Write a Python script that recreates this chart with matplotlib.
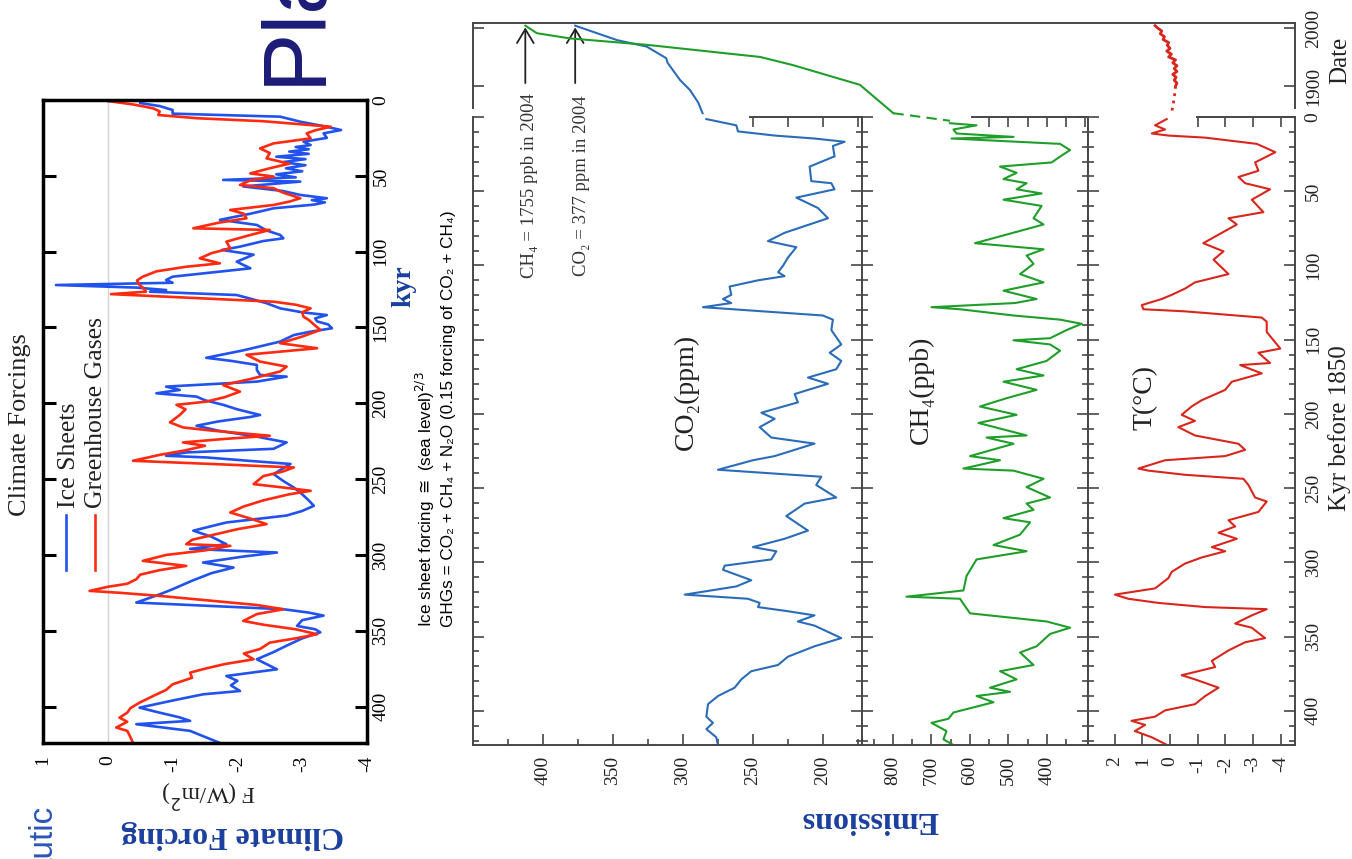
import matplotlib
matplotlib.use("Agg")
import matplotlib.pyplot as plt
from matplotlib.lines import Line2D
from matplotlib.ticker import FixedLocator

plt.rcParams['font.family'] = ['Liberation Serif', 'DejaVu Serif']

W, H = 1352, 859

# %% data - climate forcings (kyr before present, W/m2)
ice_kyr = [2, 4, 6.6, 9, 11, 14.3, 17, 19.8, 22, 25, 27.5, 29.7, 31, 32.5, 34, 35.5, 37.4, 39, 41, 43,
           45, 47, 49, 51, 52.7, 53.8, 57, 60, 62.6, 64.8, 66, 67.5, 69, 71.4, 75, 79, 82.4, 86, 89, 91.2,
           93, 96.7, 98.9, 102, 106.6, 111, 116.5, 118.7, 120.5, 122, 123.7, 125.3, 126.4, 128.6, 131,
           134, 137.4, 140, 141.8, 144, 146, 148, 150.5, 153, 155, 159.3, 165, 170, 172, 174.7, 178,
           181.3, 182.4, 185.7, 189, 191.2, 193.4, 195.6, 198, 201, 204, 207.7, 209, 212, 214.8, 218,
           222, 225.8, 230, 232.4, 234.6, 235.7, 238, 240, 243, 246.7, 251, 255.5, 260, 264, 267.6, 271,
           274, 278.6, 281, 284, 288, 292.9, 296, 298.4, 301, 305, 308.3, 312, 317, 322.6, 326, 329,
           331.4, 333, 335.8, 338, 340, 343, 346.8, 349, 351, 355, 360, 364, 368.8, 372, 375.4, 379.8,
           383, 386, 389.7, 391.9, 396, 400.7, 404, 407, 409.4, 411.6, 414, 416, 420, 424]
ice_f = [-0.5, -0.8, -1.0, -1.0, -2.66, -2.97, -3.3, -3.6, -3.33, -3.38, -3.02, -3.13, -2.9, -3.1, -2.8,
         -3.1, -2.6, -3.05, -2.7, -3.05, -2.75, -3.0, -2.6, -2.9, -1.78, -2.97, -2.09, -2.7, -2.97, -3.38,
         -3.15, -3.35, -3.18, -2.56, -2.2, -1.73, -2.3, -2.45, -2.66, -2.71, -2.4, -2.04, -1.76, -2.25,
         -1.99, -2.2, -1.0, -0.9, -1.0, 0.8, -0.44, -0.9, -0.65, -1.99, -2.2, -2.45, -2.66, -3.0, -3.38,
         -3.2, -3.23, -3.4, -3.46, -3.1, -2.87, -2.66, -2.1, -1.52, -1.9, -2.3, -2.3, -2.35, -2.76, -2.3,
         -0.9, -1.11, -0.75, -1.37, -1.5, -1.78, -2.0, -2.35, -2.2, -1.7, -1.37, -1.7, -2.3, -2.76, -2.56,
         -1.21, -0.9, -1.52, -2.2, -2.82, -2.7, -2.56, -2.7, -2.87, -3.0, -3.1, -3.18, -3.0, -2.76, -1.83,
         -1.6, -1.32, -1.6, -1.83, -1.27, -2.61, -2.1, -1.47, -1.94, -1.6, -1.3, -1.0, -0.8, -0.6, -0.44,
         -1.27, -2.71, -3.1, -3.33, -3.0, -2.92, -3.2, -3.28, -3.0, -2.75, -2.56, -2.3, -2.45, -2.61,
         -1.83, -2.0, -1.9, -2.04, -1.47, -1.0, -0.49, -0.8, -1.1, -1.27, -0.44, -0.9, -1.27, -1.5, -1.73]
ghg_kyr = [0.7, 3, 5.5, 7.5, 9.9, 12, 14, 17.6, 20, 22, 25.3, 28.6, 31.9, 35, 38.5, 42, 45, 48.4, 50.5,
           53, 56, 58.2, 61, 64.8, 67, 69.2, 72.5, 75, 78, 81, 84.6, 85.7, 89, 93.4, 97.8, 101, 104.4,
           107.7, 110, 113, 116.5, 119, 122, 124, 126.4, 128, 130.5, 133, 135, 137.4, 140, 142.9, 145,
           148, 151.6, 156, 160.4, 163.7, 168, 172.5, 175.8, 179, 184, 188, 192.3, 196, 198.9, 201, 204,
           207.7, 212.6, 215.9, 218, 221.4, 223.5, 225.8, 228, 231, 234, 237.9, 240, 242.3, 245, 248,
           253.3, 255.5, 257.7, 260, 264, 268, 272, 276, 279.7, 283, 287, 290, 292.9, 294, 297, 300,
           303.9, 307.2, 310, 313, 316, 319, 321, 323.7, 325, 327, 330.3, 333, 335.8, 339, 343.5, 346,
           349, 352.3, 355, 357.8, 362, 365, 368.8, 372, 375, 377.6, 381, 385.3, 389, 393, 397.4, 401,
           404, 407.3, 410, 413.8, 416, 419.3, 424]
ghg_f = [0.0, -0.4, -0.7, -0.8, -0.78, -1.37, -2.4, -3.44, -3.2, -3.07, -3.13, -2.56, -2.35, -2.5,
         -2.45, -2.8, -2.5, -2.2, -2.56, -2.2, -2.04, -2.56, -2.7, -2.97, -2.8, -2.56, -1.89, -2.1, -2.14,
         -1.7, -1.32, -2.5, -2.2, -1.83, -1.89, -1.6, -1.42, -1.73, -1.2, -0.75, -0.54, -0.45, -0.49,
         -0.55, -0.59, -0.05, -1.3, -2.56, -2.9, -3.13, -3.0, -3.02, -3.1, -3.18, -3.28, -3.0, -2.66,
         -3.23, -2.14, -2.35, -2.76, -2.66, -2.2, -1.78, -2.04, -1.8, -1.52, -1.06, -1.2, -1.11, -0.96,
         -1.16, -1.6, -2.5, -1.8, -1.16, -1.5, -1.2, -0.8, -0.39, -1.6, -2.87, -2.7, -2.4, -2.25, -2.7,
         -3.13, -2.8, -2.4, -2.1, -1.89, -2.2, -2.45, -2.0, -1.6, -1.3, -1.21, -1.89, -1.5, -0.9, -0.54,
         -1.21, -0.8, -0.5, -0.44, -0.3, 0.0, 0.28, -0.2, -0.8, -1.63, -2.3, -2.71, -2.3, -2.09, -2.4,
         -2.9, -3.23, -2.9, -2.5, -2.35, -2.1, -2.25, -1.8, -1.5, -1.27, -1.3, -1.0, -0.9, -0.7, -0.49,
         -0.35, -0.3, -0.18, -0.3, -0.13, -0.3, -0.34, -0.39]

# %% data - ice core record (kyr before 1850)
co2_kyr = [1.4, 5.6, 9.7, 12.5, 14.5, 16.7, 19.5, 26.5, 33.4, 43.2, 44.6, 48.7, 54.3, 61.3, 68.2, 78,
           83.6, 87.7, 94.7, 100.3, 104.5, 107.2, 110, 114.2, 119.8, 122.6, 125.3, 128.1, 133.7, 136.5,
           143.5, 153.2, 158.8, 164.3, 169.9, 175.5, 179.7, 186.6, 192.2, 199.2, 203.3, 208.9, 215.9,
           220, 222.8, 228.4, 231.2, 237.6, 242.3, 247.9, 256.3, 260.4, 268.8, 278.6, 284.1, 289.7,
           292.5, 298, 302.2, 305, 312, 316.2, 321.7, 324.5, 327.3, 330.1, 332.9, 335.7, 339.8, 342.6,
           351, 356.5, 363.5, 369.1, 373.3, 378.8, 384.4, 390, 395.5, 403.9, 408.1, 412.3, 417.8, 423]
co2_ppm = [283.3, 261.9, 260.7, 234.5, 206, 184.5, 192.9, 191.7, 209.5, 208.3, 194, 191.7, 219, 203.6,
           196.4, 227.4, 239.3, 219, 225, 228.6, 232, 227.4, 246.4, 266.7, 265.5, 271.4, 265.5, 285.7,
           200, 192.9, 194, 186.9, 195.2, 186.9, 190.5, 210.7, 196.4, 220.2, 217.9, 244, 234.5, 245.2,
           236.9, 206, 215.5, 234.5, 250, 275, 201.2, 204.8, 190.5, 213.1, 226.2, 210.7, 227.4, 250,
           233.3, 236.9, 270.2, 271.4, 251.2, 261.9, 298.8, 253.6, 245.2, 246.4, 225, 206, 217.9, 206,
           186.9, 206, 225, 232.1, 251.2, 258.3, 263.1, 275, 282.1, 283.3, 278.6, 283.3, 276.2, 275]

ch4_kyr = [4.2, 5.6, 8.4, 11.1, 13.4, 14.5, 18.1, 22.3, 25.1, 30.6, 33.4, 37.6, 41.8, 44.6, 48.7, 51.5,
           55.7, 59.9, 68.2, 72.4, 85, 89.1, 93.3, 98.9, 105.8, 111.4, 117, 122.6, 125.3, 128.1, 129.5,
           133.7, 136.5, 139.3, 143.5, 149, 150.4, 153.2, 157.4, 164.3, 169.9, 174.1, 178.3, 183.8,
           189.4, 195, 200.6, 206.1, 214.5, 215.9, 220.1, 228.4, 231.2, 236.8, 238.2, 243.7, 249.3,
           256.3, 260.4, 264.6, 270.2, 273, 281.3, 288.3, 292.5, 298, 309.2, 318.9, 323.1, 324.5, 334.3,
           339.8, 344, 348.2, 356.5, 360.7, 369.1, 373.3, 378.8, 384.4, 387.2, 390, 394.2, 401.1, 405.3,
           408.1, 413.6, 419.2, 423]
ch4_ppb = [652, 583, 643, 635, 487, 648, 366, 340, 357, 388, 522, 479, 513, 453, 479, 414, 513, 414,
           435, 409, 587, 409, 453, 435, 470, 409, 513, 427, 483, 700, 626, 487, 366, 310, 349, 392, 487,
           392, 366, 401, 479, 409, 513, 427, 505, 574, 479, 578, 453, 557, 487, 600, 522, 617, 487, 409,
           453, 392, 453, 435, 513, 444, 470, 539, 453, 583, 609, 617, 765, 626, 600, 401, 340, 392, 427,
           470, 435, 522, 479, 548, 496, 583, 539, 643, 656, 700, 661, 669, 643]

t_kyr = [1.4, 5.6, 8.4, 11.1, 12.5, 13.9, 18.1, 23.7, 30.6, 36.2, 40.4, 44.6, 48.7, 55.7, 64.1, 68.2,
         72.4, 78, 85, 90.5, 96.1, 105.8, 111.4, 115.6, 119.8, 122.6, 126.7, 129.5, 130.9, 135.1, 137.9,
         144.8, 156, 158.8, 165.7, 167.1, 172.7, 178.3, 183.8, 190.8, 195, 200.6, 204.7, 208.9, 214.5,
         220.1, 224.2, 228.4, 231.2, 236.8, 238.2, 241, 243.7, 247.9, 256.3, 259, 266, 271.6, 275.8,
         280, 284.1, 289.7, 292.5, 296.7, 300.8, 306.4, 310.6, 317.5, 321.7, 324.5, 327.3, 330.1, 331.5,
         335.7, 341.2, 344, 351, 353.8, 359.3, 366.3, 370.5, 376, 378.8, 384.4, 390, 395.5, 399.7,
         403.9, 406.7, 409.5, 413.6, 417.8, 423.4]
t_c = [0.12, 0.54, 0.18, 0.66, 0.06, -1.27, -3.13, -3.8, -3.07, -3.19, -2.47, -2.71, -3.61, -2.95,
       -3.37, -2.11, -2.41, -1.87, -1.2, -1.93, -1.57, -2.11, -0.9, -0.54, -0.06, 0.3, 1.02, 0.96, -0.54,
       -3.31, -3.49, -3.49, -3.98, -3.19, -3.61, -2.53, -3.31, -2.23, -1.99, -1.14, -0.78, -0.42, -0.9,
       -0.3, -0.9, -2.47, -2.71, -1.99, 0.18, 1.14, 0.78, -0.54, -2.65, -2.83, -3.07, -3.49, -3.19,
       -2.11, -2.35, -1.75, -2.41, -1.51, -1.99, -1.14, -0.54, -0.06, 0.06, 0.54, 1.99, 1.51, 0.42,
       -1.27, -3.49, -2.95, -2.35, -2.95, -3.43, -2.71, -2.11, -1.51, -1.63, -0.42, -0.9, -1.75, -1.27,
       -0.9, 0.18, 0.54, 1.39, 0.9, 1.27, 0.66, 0.06]

# instrumental period (upper box)
co2_year = [2004, 1979, 1968, 1948, 1940, 1910, 1893, 1871, 1853]
co2_recent = [377, 347, 326, 312, 311, 302, 295, 289, 286]
ch4_year = [2004, 1991, 1982, 1971, 1950, 1936, 1902, 1853]
ch4_recent = [1755, 1725, 1639, 1440, 1145, 1060, 886, 799]
ch4_gap_year = [1853, 1840]
ch4_gap_ppb = [799, 652]
t_year = [2004, 2000, 1995, 1990, 1985, 1980, 1975, 1970, 1965, 1960, 1955, 1950, 1945, 1940, 1935,
          1930, 1925, 1920, 1915, 1910, 1905, 1900]
t_recent = [0.54, 0.45, 0.3, 0.35, 0.2, 0.25, 0.05, 0.1, 0.0, 0.12, -0.05, 0.05, -0.2, -0.1, -0.25,
            -0.15, -0.25, -0.1, -0.22, -0.15, -0.25, -0.2]
t_early_year = [1900, 1890, 1880, 1870, 1860, 1852]
t_early = [-0.2, -0.18, -0.15, -0.12, -0.08, -0.06]

f_ticks = [1, 0, -1, -2, -3, -4]
f_marks = [-1, -2, -3]
kyr_ticks = [0, 50, 100, 150, 200, 250, 300, 350, 400]
co2_ticks = [400, 350, 300, 250, 200]
ch4_ticks = [800, 700, 600, 500, 400]
t_ticks = [2, 1, 0, -1, -2, -3, -4]
date_ticks = [1900, 2000]


def box(x0, y0, x1, y1):
    # pixel box (top-left origin) -> figure rect
    return [x0 / W, 1 - y1 / H, (x1 - x0) / W, (y1 - y0) / H]


def fxy(x, y):
    return x / W, 1 - y / H


fig = plt.figure(figsize=(W / 100, H / 100), dpi=100)

# %% left panel: climate forcings
axL = fig.add_axes(box(43, 100, 367, 743))
axL.axvline(0, color='#d2d2d2', lw=1, zorder=0)
axL.plot(ice_f, ice_kyr, color='#2152ee', lw=1.9)
axL.plot(ghg_f, ghg_kyr, color='#ff2a10', lw=1.9)
axL.set_xlim(1, -4)
axL.set_ylim(424, 0)
axL.set_xticks(f_ticks, [str(v) for v in f_ticks])
axL.xaxis.set_minor_locator(FixedLocator(f_marks))
axL.set_yticks(kyr_ticks, [str(v) for v in kyr_ticks])
axL.tick_params(axis='both', direction='in', length=9, width=2.2, labelsize=14)
# labels on the F axis only, the marks sit at -1..-3 (minor)
axL.tick_params(axis='x', which='major', length=0, top=True, bottom=True, labelrotation=90, pad=9)
axL.tick_params(axis='x', which='minor', direction='in', length=9, width=2.2, top=True, bottom=True)
axL.tick_params(axis='y', left=True, right=True, labelleft=False, labelright=True,
                labelrotation=90, pad=4)
for lab in axL.get_yticklabels():
    lab.set_va('center')
for sp in axL.spines.values():
    sp.set_linewidth(2.5)

# legend drawn by hand, rotated like the rest
fig.add_artist(Line2D([66 / W, 66 / W], [1 - 515 / H, 1 - 570 / H], color='#2152ee', lw=1.9))
fig.add_artist(Line2D([95 / W, 95 / W], [1 - 515 / H, 1 - 570 / H], color='#ff2a10', lw=1.9))
fig.text(*fxy(69, 508), 'Ice Sheets', rotation=90, ha='center', va='bottom', fontsize=18.5, color='#222')
fig.text(*fxy(96, 508), 'Greenhouse Gases', rotation=90, ha='center', va='bottom', fontsize=18.5,
         color='#222')
fig.text(*fxy(20, 425), 'Climate Forcings', rotation=90, ha='center', va='center', fontsize=19,
         color='#222')
fig.text(*fxy(404, 286), 'kyr', rotation=90, ha='center', va='center', fontsize=20,
         fontweight='bold', color='#1b3f9e')
fig.text(*fxy(209, 793), 'F (W/m$^2$)', rotation=180, ha='center', va='center', fontsize=17,
         color='#222')
fig.text(*fxy(425, 627), r'Ice sheet forcing $\cong$ (sea level)$^{2/3}$', rotation=90, ha='center',
         va='bottom', fontsize=12.3, family=['Liberation Sans', 'DejaVu Sans'])
fig.text(*fxy(448, 627), 'GHGs = CO₂ + CH₄ + N₂O (0.15 forcing of CO₂ + CH₄)', rotation=90,
         ha='center', va='bottom', fontsize=12.3, family=['Liberation Sans', 'DejaVu Sans'])
fig.text(*fxy(233, 835), 'Climate Forcing', rotation=180, ha='center', va='center', fontsize=23,
         fontweight='bold', color='#1b3f9e')
fig.text(*fxy(297, 85), 'Pla', rotation=90, ha='center', va='bottom', fontsize=64,
         color='#1c1c78', family=['Liberation Sans', 'DejaVu Sans'])
fig.text(*fxy(43, 805), 'autic', rotation=90, ha='center', va='top', fontsize=24,
         color='#2b56b8', family=['Liberation Sans', 'DejaVu Sans'])

# %% right panel: ice core record
SP = '#474747'


def lower_axes(x0, x1, lim, ticks, minor, top_lim, top_ticks):
    ax = fig.add_axes(box(x0, 117, x1, 745))
    ax.set_xlim(lim)
    ax.set_ylim(423, 0)
    ax.set_xticks(ticks, [str(v) for v in ticks])
    ax.xaxis.set_minor_locator(FixedLocator(minor))
    ax.set_yticks(kyr_ticks, [str(v) for v in kyr_ticks])
    ax.yaxis.set_minor_locator(FixedLocator(list(range(0, 421, 10))))
    ax.tick_params(which='both', direction='in', color=SP, labelcolor='#222', labelsize=14, width=1.2)
    ax.tick_params(which='major', length=8)
    ax.tick_params(which='minor', length=4.5)
    ax.tick_params(axis='x', which='both', top=False, labelrotation=90, pad=8)
    ax.tick_params(axis='y', which='both', left=True, right=True, labelleft=False, labelright=False)
    for sp in ax.spines.values():
        sp.set_color(SP)
        sp.set_linewidth(1.4)
    ax.spines['top'].set_visible(False)
    top = ax.secondary_xaxis('top')
    top.set_ticks(top_ticks)
    top.tick_params(axis='x', direction='in', length=7, width=1.2, color=SP, labeltop=False)
    for k in ('top', 'bottom'):
        top.spines[k].set_bounds(*top_lim)
        top.spines[k].set_color(SP)
        top.spines[k].set_linewidth(1.4)
    return ax


axC = lower_axes(473, 862, (450, 172.1), co2_ticks, [425, 375, 325, 275, 225, 175],
                 (252, 172.1), [250, 225, 200, 175])
axC.plot(co2_ppm, co2_kyr, color='#2b6cb8', lw=1.5)

axM = lower_axes(862, 1088, (880.5, 293.5), ch4_ticks, [850, 750, 650, 550, 450, 350],
                 (595, 293.5), [550, 500, 450, 400, 350, 300])
axM.plot(ch4_ppb, ch4_kyr, color='#1f9e2a', lw=1.5)

axT = lower_axes(1088, 1295, (2.96, -4.51), t_ticks, [], (-0.97, -4.51), [-1, -2, -3, -4])
axT.plot(t_c, t_kyr, color='#d8261c', lw=1.5)
axT.tick_params(axis='y', labelright=True, labelrotation=90, pad=7)
for lab in axT.get_yticklabels():
    lab.set_va('center')

# upper box: instrumental period
axU = fig.add_axes(box(473, 23, 1295, 117))
axU.patch.set_alpha(0)
axU.set_xlim(0, 1)
axU.set_ylim(1846.5, 2008.6)
axU.set_xticks([])
axU.spines['bottom'].set_visible(False)
for k in ('left', 'right', 'top'):
    axU.spines[k].set_color(SP)
    axU.spines[k].set_linewidth(1.4)
for k in ('left', 'right'):
    axU.spines[k].set_bounds(1862, 2008.6)
axU.set_yticks(date_ticks, [str(v) for v in date_ticks])
axU.tick_params(axis='y', left=True, right=True, direction='in', length=8, width=1.2, color=SP,
                labelleft=False, labelright=True, labelrotation=90, labelsize=14, labelcolor='#222',
                pad=7)
for lab in axU.get_yticklabels():
    lab.set_va('center')


def overlay(x0, x1, lim):
    ax = fig.add_axes(box(x0, 23, x1, 117))
    ax.set_xlim(lim)
    ax.set_ylim(1846.5, 2008.6)
    ax.axis('off')
    return ax


uC = overlay(473, 862, (450, 172.1))
uC.plot(co2_recent, co2_year, color='#2b6cb8', lw=1.5)
uC.annotate('', xy=(377, 2001), xytext=(377, 1905),
            arrowprops=dict(arrowstyle='->,head_length=0.5,head_width=0.3', color='#222', lw=1.3,
                            mutation_scale=20, shrinkA=0, shrinkB=0))

uM = overlay(473, 1088, (1890.9, 293.5))
uM.plot(ch4_recent, ch4_year, color='#1f9e2a', lw=1.5)
uM.plot(ch4_gap_ppb, ch4_gap_year, color='#1f9e2a', lw=1.5, ls=(0, (5, 3)), clip_on=False)
uM.annotate('', xy=(1755, 2001), xytext=(1755, 1905),
            arrowprops=dict(arrowstyle='->,head_length=0.5,head_width=0.3', color='#222', lw=1.3,
                            mutation_scale=20, shrinkA=0, shrinkB=0))

uT = overlay(1088, 1295, (2.96, -4.51))
uT.plot(t_recent, t_year, color='#d8261c', lw=2)
uT.plot(t_early, t_early_year, color='#d8261c', lw=2, ls=':', clip_on=False)

# annotations and labels
fig.text(*fxy(529, 186), 'CH₄ = 1755 ppb in 2004', rotation=90, ha='center', va='center',
         fontsize=13.5, color='#333')
fig.text(*fxy(582, 186), 'CO₂ = 377 ppm in 2004', rotation=90, ha='center', va='center',
         fontsize=13.5, color='#333')
fig.text(*fxy(686, 392), 'CO₂(ppm)', rotation=90, ha='center', va='center', fontsize=20, color='#222')
fig.text(*fxy(921, 390), 'CH₄(ppb)', rotation=90, ha='center', va='center', fontsize=20, color='#222')
fig.text(*fxy(1145, 398), 'T(°C)', rotation=90, ha='center', va='center', fontsize=20, color='#222')
fig.text(*fxy(1340, 428), 'Kyr before 1850', rotation=90, ha='center', va='center', fontsize=18,
         color='#222')
fig.text(*fxy(1340, 60), 'Date', rotation=90, ha='center', va='center', fontsize=18, color='#222')
fig.text(*fxy(870, 819), 'Emissions', rotation=180, ha='center', va='center', fontsize=23,
         fontweight='bold', color='#1b3f9e')

fig.savefig('out.png', dpi=100)
